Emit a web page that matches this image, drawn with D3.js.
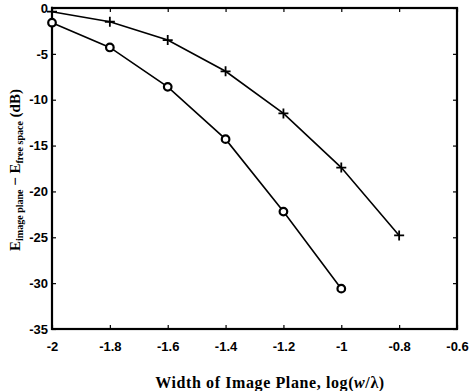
<!DOCTYPE html>
<html>
<head>
<meta charset="utf-8">
<script src="https://cdn.jsdelivr.net/npm/d3@7"></script>
<style>
  body { margin: 0; background: #fff; }
  svg { display: block; }
  .tick text { font-family: "Liberation Sans", Arial, sans-serif; font-weight: bold; font-size: 13px; }
  .lbl { font-family: "Liberation Serif", "Times New Roman", serif; font-weight: bold; }
</style>
</head>
<body>
<svg id="chart" width="470" height="391"></svg>
<script>
// x positions, log(w/lambda)
var widths = [-2, -1.8, -1.6, -1.4, -1.2, -1.0, -0.8];
// circle series (dB)
var circleVals = [-1.6, -4.3, -8.6, -14.3, -22.2, -30.6];
// plus series (dB)
var plusVals = [-0.4, -1.5, -3.5, -6.9, -11.5, -17.4, -24.8];
var xTicks = [-2, -1.8, -1.6, -1.4, -1.2, -1, -0.8, -0.6];
var yTicks = [0, -5, -10, -15, -20, -25, -30, -35];

(function() {
  var svg = d3.select("#chart");
  var mLeft = 52, mRight = 457, mTop = 8, mBottom = 329;

  var x = d3.scaleLinear().domain([-2, -0.6]).range([mLeft, mRight]);
  var y = d3.scaleLinear().domain([-35, 0]).range([mBottom, mTop]);

  // plain hyphen instead of d3's unicode minus
  var fmt = function(d) { return String(+d.toFixed(1)); };

  // axes, ticks pointing inward
  svg.append("g")
    .attr("transform", "translate(0," + mBottom + ")")
    .call(d3.axisBottom(x).tickValues(xTicks).tickSize(-4).tickPadding(13).tickFormat(fmt))
    .call(function(g) { g.select(".domain").remove(); });
  svg.append("g")
    .attr("transform", "translate(" + mLeft + ",0)")
    .call(d3.axisLeft(y).tickValues(yTicks).tickSize(-4).tickPadding(4).tickFormat(fmt))
    .call(function(g) { g.select(".domain").remove(); });
  svg.append("g")
    .attr("transform", "translate(0," + mTop + ")")
    .call(d3.axisTop(x).tickValues(xTicks).tickSize(-4).tickFormat(""))
    .call(function(g) { g.select(".domain").remove(); });
  svg.append("g")
    .attr("transform", "translate(" + mRight + ",0)")
    .call(d3.axisRight(y).tickValues(yTicks).tickSize(-4).tickFormat(""))
    .call(function(g) { g.select(".domain").remove(); });

  svg.selectAll(".tick line").attr("stroke", "#000").attr("stroke-width", 1.2);
  svg.selectAll(".tick text").attr("fill", "#000");

  // frame
  svg.append("rect")
    .attr("x", mLeft).attr("y", mTop)
    .attr("width", mRight - mLeft).attr("height", mBottom - mTop)
    .attr("fill", "none").attr("stroke", "#000").attr("stroke-width", 2.2);

  var line = d3.line()
    .x(function(d) { return x(d[0]); })
    .y(function(d) { return y(d[1]); });

  var circlePts = circleVals.map(function(v, i) { return [widths[i], v]; });
  var plusPts = plusVals.map(function(v, i) { return [widths[i], v]; });

  svg.append("path").datum(plusPts)
    .attr("d", line).attr("fill", "none").attr("stroke", "#000").attr("stroke-width", 1.6);
  svg.append("path").datum(circlePts)
    .attr("d", line).attr("fill", "none").attr("stroke", "#000").attr("stroke-width", 1.6);

  svg.selectAll(".circ").data(circlePts).enter().append("circle")
    .attr("class", "circ")
    .attr("cx", function(d) { return x(d[0]); })
    .attr("cy", function(d) { return y(d[1]); })
    .attr("r", 3.8)
    .attr("fill", "#fff").attr("stroke", "#000").attr("stroke-width", 2.2);

  svg.selectAll(".plus").data(plusPts).enter().append("path")
    .attr("class", "plus")
    .attr("transform", function(d) { return "translate(" + x(d[0]) + "," + y(d[1]) + ")"; })
    .attr("d", "M-5,0H5M0,-5V5")
    .attr("stroke", "#000").attr("stroke-width", 1.8);

  // x label
  var xl = svg.append("text").attr("class", "lbl")
    .attr("x", 270).attr("y", 388)
    .attr("text-anchor", "middle").attr("font-size", 16)
    .attr("letter-spacing", 0.6);
  xl.append("tspan").text("Width of Image Plane, log(");
  xl.append("tspan").attr("font-style", "italic").text("w");
  xl.append("tspan").text("/λ)");

  // y label
  var yl = svg.append("text").attr("class", "lbl")
    .attr("transform", "translate(20,170) rotate(-90)")
    .attr("text-anchor", "middle").attr("font-size", 15);
  yl.append("tspan").text("E");
  yl.append("tspan").attr("font-size", 10).attr("dy", 3).text("image plane");
  yl.append("tspan").attr("dy", -3).text(" − E");
  yl.append("tspan").attr("font-size", 10).attr("dy", 3).text("free space");
  yl.append("tspan").attr("dy", -3).text(" (dB)");
})();
</script>
</body>
</html>
